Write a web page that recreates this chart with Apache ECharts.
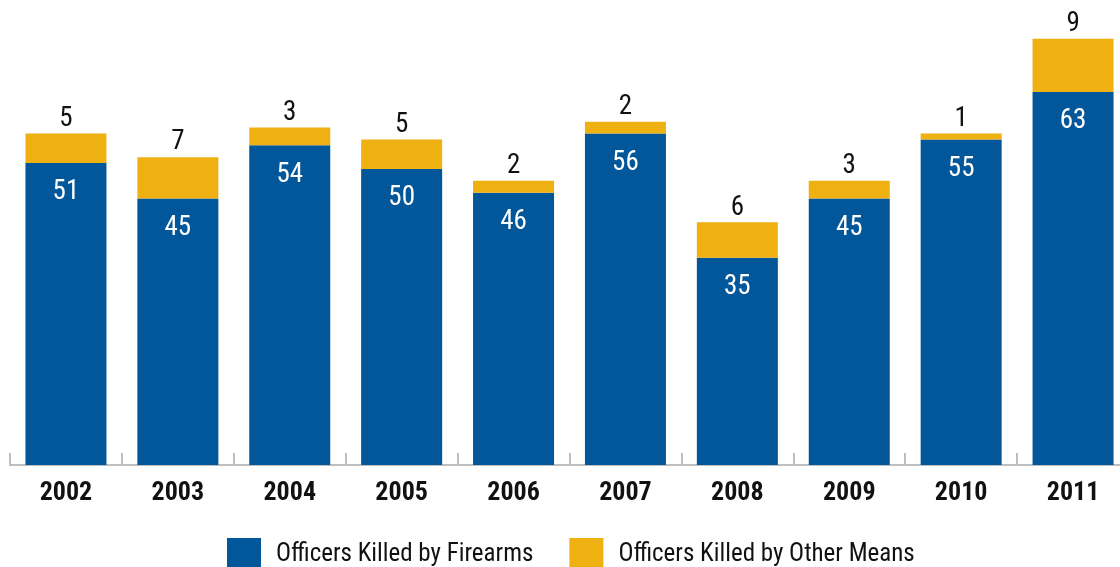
<!DOCTYPE html>
<html><head><meta charset="utf-8">
<script src="https://cdn.jsdelivr.net/npm/echarts@6/dist/echarts.min.js"></script>
<style>html,body{margin:0;padding:0;background:#fff}#c{width:1120px;height:567px}</style>
</head><body><div id="c"></div>
<script>
const years = ['2002','2003','2004','2005','2006','2007','2008','2009','2010','2011'];
const firearms = [51,45,54,50,46,56,35,45,55,63];
const otherMeans = [5,7,3,5,2,2,6,3,1,9];
const seriesNames = ['Officers Killed by Firearms','Officers Killed by Other Means'];
const FONT = '"Roboto Condensed", "Arial Narrow", "Roboto", sans-serif';
const chart = echarts.init(document.getElementById('c'));
chart.setOption({
  animation:false,
  textStyle:{fontFamily:FONT},
  grid:{left:10, width:1119, top:21, height:444, outerBoundsMode:'none', containLabel:false},
  legend:{
    left:227, top:538, padding:0, itemWidth:34, itemHeight:33, itemGap:36,
    icon:'rect',
    textStyle:{fontFamily:FONT, fontSize:25, color:'#111', padding:[2,0,0,10]},
    data:seriesNames
  },
  xAxis:{
    type:'category', data:years,
    axisLine:{lineStyle:{color:'#BFBFBF', width:2}},
    axisTick:{show:true, inside:true, length:12, lineStyle:{color:'#BFBFBF', width:2}},
    axisLabel:{fontFamily:FONT, fontSize:26, fontWeight:'bold', color:'#111', margin:15}
  },
  yAxis:{type:'value', min:0, max:75, show:false, splitLine:{show:false}},
  series:[
    {name:seriesNames[0], type:'bar', stack:'a', barWidth:81, data:firearms,
     itemStyle:{color:'#02569A'},
     label:{show:true, position:'insideTop', distance:16, color:'#fff', fontSize:27, fontFamily:FONT}},
    {name:seriesNames[1], type:'bar', stack:'a', barWidth:81, data:otherMeans,
     itemStyle:{color:'#EFB012'},
     label:{show:true, position:'top', distance:1, color:'#111', fontSize:27, fontFamily:FONT}}
  ]
});
</script></body></html>
